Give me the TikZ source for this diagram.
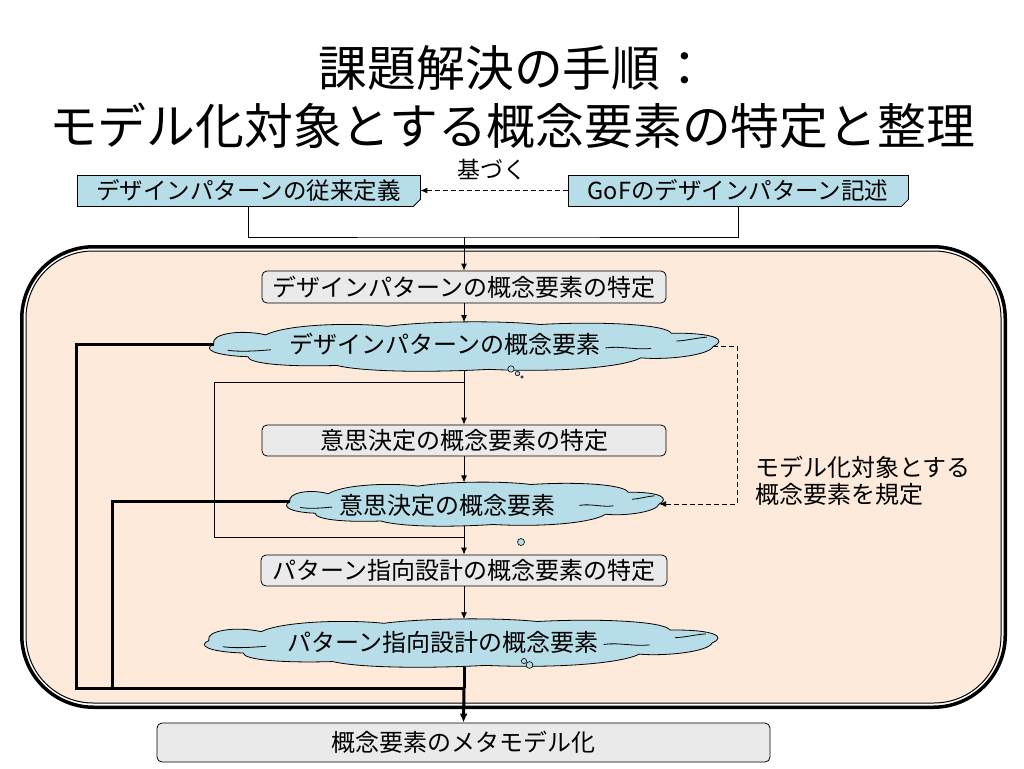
\documentclass[tikz,border=0pt]{standalone}
\usepackage{fontspec}
\setmainfont{Noto Sans CJK JP}
\usetikzlibrary{arrows.meta}
\definecolor{peach}{HTML}{FDEADA}
\definecolor{lblue}{HTML}{B7DDE8}
\definecolor{lgray}{HTML}{EAEAEA}
\tikzset{
  ln/.style={draw=black, line width=0.9pt},
  thk/.style={draw=black, line width=3pt},
  dsh/.style={dash pattern=on 5pt off 3pt},
  arr/.style={-{Latex[length=7pt,width=6pt]}},
  tarr/.style={-{Latex[length=9pt,width=8pt]}},
  doc/.style={draw=black, line width=0.8pt, fill=lblue, minimum height=31pt, inner sep=0pt, font=\fontsize{23.5}{27}\selectfont},
  proc/.style={draw=black, line width=0.8pt, fill=lgray, rounded corners=5pt, inner sep=0pt, font=\fontsize{24}{27}\selectfont},
  cloudst/.style={draw=black, line width=0.8pt, fill=lblue},
  cloudin/.style={draw=black, line width=0.8pt},
  ctext/.style={inner sep=0pt, font=\fontsize{24}{27}\selectfont},
  bub/.style={draw=black, line width=0.6pt, fill=lblue},
  ttl/.style={inner sep=0pt, font=\fontsize{48.8}{56}\selectfont},
  mycloud/.pic={
    \filldraw[cloudst] (-0.985,-0.15)
      .. controls (-1.0,-0.6) and (-0.88,-0.8) .. (-0.78,-0.55)
      .. controls (-0.7,-1.0) and (-0.45,-1.1) .. (-0.3,-0.92)
      .. controls (-0.15,-1.15) and (0.15,-1.18) .. (0.3,-1.0)
      .. controls (0.55,-1.15) and (0.8,-1.0) .. (0.82,-0.62)
      .. controls (1.0,-0.65) and (1.04,-0.3) .. (0.985,-0.05)
      .. controls (0.97,0.35) and (0.8,0.55) .. (0.7,0.45)
      .. controls (0.62,0.9) and (0.35,1.08) .. (0.1,0.95)
      .. controls (-0.15,1.1) and (-0.4,1.05) .. (-0.5,0.78)
      .. controls (-0.7,0.85) and (-0.85,0.7) .. (-0.85,0.4)
      .. controls (-0.99,0.35) and (-1.03,0.05) .. (-0.985,-0.15) -- cycle;
    \draw[cloudin] (-0.93,0.12) .. controls (-0.88,0.2) and (-0.82,0.15) .. (-0.76,0.1);
    \draw[cloudin] (0.56,0.02) .. controls (0.62,-0.08) and (0.68,0.12) .. (0.74,0.04);
    \draw[cloudin] (0.84,-0.28) .. controls (0.88,-0.3) and (0.92,-0.42) .. (0.96,-0.45);
    \coordinate (-w) at (-0.985,-0.15);
    \coordinate (-e) at (0.985,-0.05);
    \coordinate (-n) at (0,-1.1);
    \coordinate (-s) at (0,1.02);
  }
}
\begin{document}
\begin{tikzpicture}[x=1pt,y=-1pt]
\useasboundingbox (0,0) rectangle (1024,768);
\fill[white] (0,0) rectangle (1024,768);

% title
\node[ttl] (title1) at (514,68) {課題解決の手順：};
\node[ttl] (title2) at (512,126) {モデル化対象とする概念要素の特定と整理};

% big rounded frame
\filldraw[fill=white, draw=black, line width=3.5pt, rounded corners=72pt] (21.75,246.75) rectangle (1005.25,707.25);
\filldraw[fill=peach, draw=black, line width=1pt, rounded corners=67pt] (26,251) rectangle (1001,703);

% top boxes
\node[doc, minimum width=343pt] (A) at (248.5,190.5) {デザインパターンの従来定義};
\node[doc, minimum width=340pt] (B) at (738,190.5) {GoFのデザインパターン記述};
\foreach \n in {A,B}{
  \fill[white] ([xshift=-7pt,yshift=-0.6pt]\n.south east) -- ([xshift=0.6pt,yshift=-0.6pt]\n.south east) -- ([xshift=0.6pt,yshift=7pt]\n.south east) -- cycle;
  \draw[line width=0.8pt] ([xshift=-7pt]\n.south east) -- ([yshift=7pt]\n.south east);
}
\node[inner sep=0pt, font=\fontsize{23}{26}\selectfont] (N) at (492,170) {基づく};
\draw[ln, dsh, arr] (B.west) -- (A.east);

\coordinate (j1) at (464,237);
\draw[ln] (A.south) |- (j1) -| (B.south);

% process boxes
\node[proc, minimum width=404pt, minimum height=32pt] (C) at (464,287) {デザインパターンの概念要素の特定};
\node[proc, minimum width=404pt, minimum height=31pt] (D) at (464,440.5) {意思決定の概念要素の特定};
\node[proc, minimum width=406pt, minimum height=31pt] (E) at (464,570.5) {パターン指向設計の概念要素の特定};
\node[proc, minimum width=613pt, minimum height=39pt] (F) at (463.5,742.5) {概念要素のメタモデル化};

% clouds
\pic[shift={(463.5,347.5)}, xscale=253.5, yscale=23] (K1) {mycloud};
\pic[shift={(474.5,505)}, xscale=187.5, yscale=20.5] (K2) {mycloud};
\pic[shift={(460.5,644)}, xscale=255.5, yscale=22.5] (K3) {mycloud};
\node[ctext] (T1) at (445,344) {デザインパターンの概念要素};
\node[ctext] (T2) at (447,505) {意思決定の概念要素};
\node[ctext] (T3) at (443,642) {パターン指向設計の概念要素};

% thought bubbles
\draw[bub] (511,369) circle[radius=3.2];
\draw[bub] (517.5,373.5) circle[radius=2.2];
\draw[bub] (522,377) circle[radius=1.3];
\draw[bub] (521,542) circle[radius=3.5];
\draw[bub] (524,661) circle[radius=2.6];
\draw[bub] (529.5,665) circle[radius=3.4];

% vertical flow
\draw[ln, arr] (j1) -- (C.north);
\draw[ln, arr] (C.south) -- (C.south |- K1-n);
\draw[ln, arr] (K1-s -| D.north) -- (D.north);
\draw[ln, arr] (D.south) -- (D.south |- K2-n);
\draw[ln, arr] (K2-s -| E.north) -- (E.north);
\draw[ln, arr] (E.south) -- (E.south |- K3-n);

% thin loop
\coordinate (L1) at (464,382);
\coordinate (L2) at (464,537);
\draw[ln] (L1) -- ++(-250,0) |- (L2);

% thick collectors
\coordinate (J2) at (464,688);
\draw[thk] (K1-w) -- ++(-137,0) |- (J2);
\draw[thk] (K2-w) -- ++(-177,0) |- (J2);
\draw[thk] (K3-s -| J2) -- (J2);
\draw[thk, tarr] (J2) -- (F.north);

% dashed specification connector
\draw[ln, dsh, arr] (K1-e) -- ++(24,0) |- (K2-e);
\node[inner sep=0pt, anchor=west, align=left, font=\fontsize{24}{27}\selectfont] (M) at (755,481) {モデル化対象とする\\概念要素を規定};
\end{tikzpicture}
\end{document}
